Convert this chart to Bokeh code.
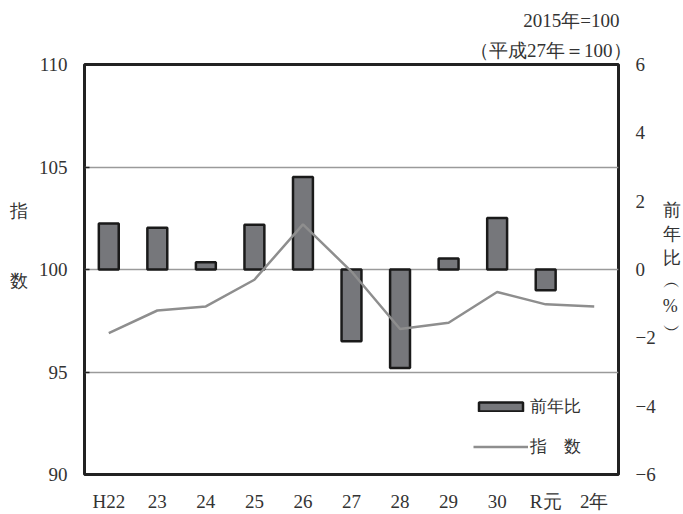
from bokeh.plotting import figure
from bokeh.models import (Range1d, LinearAxis, FixedTicker, Legend, LegendItem, Title)
from bokeh.embed import file_html
from bokeh.resources import INLINE

# ---- data ----
years = ["H22", "23", "24", "25", "26", "27", "28", "29", "30", "R元", "2年"]
index_values = [96.9, 98.0, 98.2, 99.5, 102.2, 99.9, 97.1, 97.4, 98.9, 98.3, 98.2]
yoy_change = [1.35, 1.22, 0.21, 1.31, 2.71, -2.10, -2.88, 0.32, 1.51, -0.61, None]
left_ticks = [90, 95, 100, 105, 110]
right_ticks = [-6, -4, -2, 0, 2, 4, 6]
grid_ticks = [95, 100, 105]

FONT = "'Liberation Serif'"
TXT = "#333333"

p = figure(width=683, height=514, x_range=years, y_range=Range1d(90, 110),
           output_backend="svg", toolbar_location=None,
           min_border_left=84, min_border_right=65, min_border_top=64, min_border_bottom=33)
p.x_range.range_padding = 0
p.extra_y_ranges = {"pct": Range1d(-6, 6)}

bar_x = [y for y, v in zip(years, yoy_change) if v is not None]
bar_v = [v for v in yoy_change if v is not None]
bars = p.vbar(x=bar_x, top=bar_v, bottom=0, width=0.41, y_range_name="pct",
              fill_color="#76777b", line_color="#1a1a1a", line_width=2.5)
line = p.line(x=years, y=index_values, line_color="#8e8e8e", line_width=2.5)

# frame / grids
p.outline_line_color = "#222222"
p.outline_line_width = 3
p.xgrid.visible = False
p.ygrid.ticker = FixedTicker(ticks=grid_ticks)
p.ygrid.grid_line_color = "#9a9a9a"
p.ygrid.grid_line_width = 1.5

# left axis
ya = p.yaxis[0]
ya.ticker = FixedTicker(ticks=left_ticks)
ya.axis_line_color = None
ya.major_tick_in = 5
ya.major_tick_out = 0
ya.major_tick_line_color = "#222222"
ya.major_tick_line_width = 1.5
ya.minor_tick_line_color = None
ya.major_label_text_font = FONT
ya.major_label_text_font_size = "19px"
ya.major_label_text_color = TXT
ya.major_label_standoff = 17
ya.axis_label = "指\n\n\n数\n\n"
ya.axis_label_orientation = "horizontal"
ya.axis_label_text_font = FONT
ya.axis_label_text_font_style = "normal"
ya.axis_label_text_font_size = "18px"
ya.axis_label_text_color = TXT
ya.axis_label_text_line_height = 1.18
ya.axis_label_standoff = 8

# right axis
ra = LinearAxis(y_range_name="pct", ticker=FixedTicker(ticks=right_ticks))
ra.major_label_overrides = {t: (str(t).replace("-", "−")) for t in right_ticks}
ra.axis_line_color = None
ra.major_tick_in = 0
ra.major_tick_out = 0
ra.minor_tick_line_color = None
ra.major_label_text_font = FONT
ra.major_label_text_font_size = "19px"
ra.major_label_text_color = TXT
ra.major_label_standoff = 17
ra.axis_label = "前\n年\n比\n︵\n%\n︶"
ra.axis_label_orientation = "horizontal"
ra.axis_label_text_font = FONT
ra.axis_label_text_font_style = "normal"
ra.axis_label_text_font_size = "18px"
ra.axis_label_text_color = TXT
ra.axis_label_text_line_height = 1.2
ra.axis_label_standoff = 4
p.add_layout(ra, "right")

# bottom axis
xa = p.xaxis[0]
xa.axis_line_color = None
xa.major_tick_line_color = None
xa.minor_tick_line_color = None
xa.major_label_text_font = FONT
xa.major_label_text_font_size = "19px"
xa.major_label_text_color = TXT
xa.major_label_standoff = 10

# top-right notes
t1 = Title(text="（平成27年＝100）", align="right", text_font=FONT, text_font_size="19px",
           text_font_style="normal", text_color=TXT, standoff=8, offset=-13)
t2 = Title(text="2015年=100", align="right", text_font=FONT, text_font_size="19px",
           text_font_style="normal", text_color=TXT, standoff=5, offset=-1)
p.add_layout(t1, "above")
p.add_layout(t2, "above")

# legend
legend = Legend(items=[LegendItem(label="前年比", renderers=[bars]),
                       LegendItem(label="指　数", renderers=[line])],
                location=(389, 16), orientation="vertical",
                glyph_width=55, glyph_height=11, label_height=20, spacing=17,
                padding=0, margin=0, label_standoff=2,
                border_line_color=None, background_fill_alpha=0,
                label_text_font=FONT, label_text_font_size="17px", label_text_color=TXT)
p.add_layout(legend, "center")

open("out.html", "w").write(file_html(p, INLINE))
